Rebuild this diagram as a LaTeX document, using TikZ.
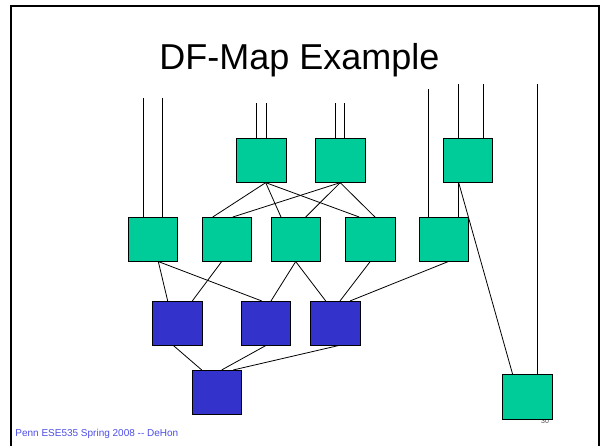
\documentclass[tikz,border=0pt]{standalone}
\usepackage{fontspec}
\setmainfont{Liberation Sans}
\definecolor{cellgreen}{RGB}{0,204,153}
\definecolor{cellblue}{RGB}{51,51,204}
\definecolor{footblue}{RGB}{77,77,230}
\begin{document}
\begin{tikzpicture}[x=1pt, y=-1pt, line width=0.8pt,
    gbox/.style={draw=black, fill=cellgreen, minimum width=49.6pt, minimum height=44.5pt, inner sep=0pt, outer sep=0pt},
    bbox/.style={gbox, fill=cellblue}]
				% 1. 画布与边框
				\useasboundingbox (0,0) rectangle (603,446);
				\draw[line width=2pt] (11,446) -- (11,6) -- (599,6) -- (599,446);
				
				% 2. 标题与页脚
				\node[anchor=base, font=\fontsize{36}{40}\selectfont] (title) at (299.4,70) {DF-Map Example};
				\node[anchor=base west, font=\fontsize{10}{12}\selectfont, text=footblue, inner sep=0pt] (foot) at (15,436.7) {Penn ESE535 Spring 2008 -{}- DeHon};
				\node[anchor=base, font=\fontsize{7}{8}\selectfont, text=black!70, inner sep=0pt] (pgno) at (545,423.5) {30};
				
				% 3. 方块
				\node[gbox] (t1) at (261.2,160.4) {};
				\node[gbox] (t2) at (340.2,160.4) {};
				\node[gbox] (t3) at (468,160.4) {};
				\node[gbox] (mA) at (152.9,239.3) {};
				\node[gbox] (mB) at (226.9,239.3) {};
				\node[gbox] (mC) at (295.7,239.3) {};
				\node[gbox] (mD) at (370.2,239.3) {};
				\node[gbox] (mE) at (443.7,239.3) {};
				\node[bbox] (bP) at (177.5,323.2) {};
				\node[bbox] (bQ) at (266,323.2) {};
				\node[bbox] (bR) at (335.2,323.2) {};
				\node[bbox] (bS) at (217,392.2) {};
				\node[gbox] (out) at (527.5,396.8) {};
				
				% 4. 输入线端点
				\coordinate (inA1) at (143,98);
				\coordinate (inA2) at (162.7,98);
				\coordinate (in11) at (256.7,103.3);
				\coordinate (in12) at (266,103.3);
				\coordinate (in21) at (335.3,103.3);
				\coordinate (in22) at (344.7,103.3);
				\coordinate (inE) at (428.7,89);
				\coordinate (in31) at (458.7,84);
				\coordinate (in32) at (483,84);
				\coordinate (inO) at (537,84);
				
				% 5. 输入线
				\draw (inA1) -- (inA1 |- mA.north);
				\draw (inA2) -- (inA2 |- mA.north);
				\draw (in11) -- (in11 |- t1.north);
				\draw (in12) -- (in12 |- t1.north);
				\draw (in21) -- (in21 |- t2.north);
				\draw (in22) -- (in22 |- t2.north);
				\draw (inE) -- (inE |- mE.north);
				\draw (in31) -- (in31 |- t3.north);
				\draw (in32) -- (in32 |- t3.north);
				\draw (inO) -- (inO |- out.north);
				
				% 6. 连线
				\draw ([xshift=4.5pt]t1.south) -- ([xshift=-14.2pt]mB.north);
				\draw ([xshift=4.5pt]t1.south) -- ([xshift=-14.7pt]mC.north);
				\draw ([xshift=4.5pt]t1.south) -- ([xshift=-10.9pt]mD.north);
				\draw (t2.south) -- ([xshift=5.8pt]mB.north);
				\draw (t2.south) -- ([xshift=10pt]mC.north);
				\draw (t2.south) -- ([xshift=4.8pt]mD.north);
				\draw ([xshift=-9.3pt]t3.south) -- ([xshift=15pt]mE.north);
				\draw ([xshift=-9.3pt]t3.south) -- ([xshift=-14.8pt]out.north);
				\draw ([xshift=5.4pt]mA.south) -- ([xshift=-9.8pt]bP.north);
				\draw ([xshift=5.4pt]mA.south) -- ([xshift=-4.3pt]bQ.north);
				\draw ([xshift=-5.2pt]mB.south) -- ([xshift=14.8pt]bP.north);
				\draw (mC.south) -- ([xshift=5pt]bQ.north);
				\draw (mC.south) -- ([xshift=-9.5pt]bR.north);
				\draw (mD.south) -- ([xshift=4.8pt]bR.north);
				\draw ([xshift=4.6pt]mE.south) -- ([xshift=14.8pt]bR.north);
				\draw ([xshift=-4.2pt]bP.south) -- ([xshift=-15.3pt]bS.north);
				\draw (bQ.south) -- ([xshift=4.7pt]bS.north);
				\draw ([xshift=3.8pt]bR.south) -- ([xshift=16.3pt]bS.north);
			\end{tikzpicture}
\end{document}
